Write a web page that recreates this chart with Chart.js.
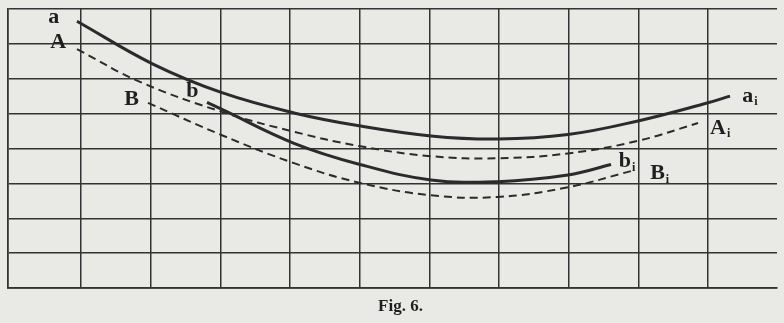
<!DOCTYPE html>
<html>
<head>
<meta charset="utf-8">
<script src="https://cdn.jsdelivr.net/npm/chart.js@4.4.1/dist/chart.umd.min.js"></script>
<style>
    html, body { margin: 0; padding: 0; background: #e9e9e6; }
    #wrap { width: 784px; height: 323px; }
</style>
</head>
<body>
<div id="wrap"><canvas id="fig"></canvas></div>
<script>
// curve values in grid units (x: columns, y: rows from the bottom)
const curveA_x = [0.943, 2.034, 3.024, 4.058, 4.991, 6.024, 6.98, 7.99, 8.995, 10.0, 10.316]
const curveA_y = [7.65, 6.42, 5.60, 5.02, 4.65, 4.36, 4.27, 4.40, 4.79, 5.31, 5.50]

const dashA_x = [0.943, 1.847, 3.024, 4.058, 4.991, 6.024, 6.98, 7.99, 8.995, 9.857]
const dashA_y = [6.85, 5.91, 5.05, 4.48, 4.07, 3.78, 3.72, 3.86, 4.22, 4.73]

const curveB_x = [2.809, 3.024, 4.058, 4.991, 6.024, 6.98, 7.99, 8.608]
const curveB_y = [5.32, 5.12, 4.15, 3.55, 3.10, 3.05, 3.24, 3.54]

const dashB_x = [1.962, 3.024, 4.058, 4.991, 6.024, 6.98, 7.99, 8.91]
const dashB_y = [5.31, 4.38, 3.58, 3.02, 2.66, 2.61, 2.89, 3.36]

// column lines 1..10, the outer frame is the axis border
const gridX = [1, 2, 3, 4, 5, 6, 7, 8, 9, 10]

const curveLabels = [
    { text: 'a', sub: '', x: 0.53, y: 7.75 },
    { text: 'A', sub: '', x: 0.56, y: 7.05 },
    { text: 'B', sub: '', x: 1.62, y: 5.4 },
    { text: 'b', sub: '', x: 2.51, y: 5.65 },
    { text: 'a', sub: 'i', x: 10.49, y: 5.5 },
    { text: 'A', sub: 'i', x: 10.03, y: 4.58 },
    { text: 'b', sub: 'i', x: 8.72, y: 3.62 },
    { text: 'B', sub: 'i', x: 9.17, y: 3.28 },
]
const caption = 'Fig. 6.'

const ink = '#333333'

function pts(xs, ys) {
    return xs.map((x, i) => ({ x: x, y: ys[i] }))
}

const lineBase = {
    showLine: true,
    fill: false,
    borderColor: '#2b2b2b',
    pointRadius: 0,
    tension: 0.4,
}

const labelPlugin = {
    id: 'curveLabels',
    afterDatasetsDraw(chart) {
        const ctx = chart.ctx
        const xs = chart.scales.x
        const ys = chart.scales.y
        ctx.save()
        ctx.fillStyle = '#1f1f1f'
        ctx.textBaseline = 'middle'
        curveLabels.forEach(l => {
            const px = xs.getPixelForValue(l.x)
            const py = ys.getPixelForValue(l.y)
            ctx.font = 'bold 22px "Liberation Serif", "DejaVu Serif", serif'
            ctx.textAlign = 'left'
            ctx.fillText(l.text, px, py)
            if (l.sub) {
                const w = ctx.measureText(l.text).width
                ctx.font = 'bold 12px "Liberation Serif", "DejaVu Serif", serif'
                ctx.fillText(l.sub, px + w + 1, py + 6)
            }
        })
        ctx.font = 'bold 17px "Liberation Serif", "DejaVu Serif", serif'
        ctx.textAlign = 'center'
        ctx.fillText(caption, (chart.chartArea.left + chart.chartArea.right) / 2 + 8, chart.chartArea.bottom + 19)
        ctx.restore()
    }
}

new Chart(document.getElementById('fig'), {
    type: 'scatter',
    data: {
        datasets: [
            { ...lineBase, data: pts(curveA_x, curveA_y), borderWidth: 3 },
            { ...lineBase, data: pts(dashA_x, dashA_y), borderWidth: 2, borderDash: [8, 5] },
            { ...lineBase, data: pts(curveB_x, curveB_y), borderWidth: 3 },
            { ...lineBase, data: pts(dashB_x, dashB_y), borderWidth: 2, borderDash: [8, 5] },
        ]
    },
    options: {
        responsive: true,
        maintainAspectRatio: false,
        animation: false,
        layout: {
            padding: { left: 8, right: 7, top: 9, bottom: 35 }
        },
        plugins: {
            legend: { display: false },
            tooltip: { enabled: false },
        },
        scales: {
            x: {
                type: 'linear',
                min: -0.047,
                max: 10.99,
                afterBuildTicks: (axis) => { axis.ticks = gridX.map(v => ({ value: v })) },
                grid: { color: ink, lineWidth: 1.5, drawTicks: false },
                border: { color: ink, width: 1.8 },
                ticks: { display: false },
            },
            y: {
                type: 'linear',
                min: 0,
                max: 8,
                grid: { color: ink, lineWidth: 1.5, drawTicks: false },
                border: { color: ink, width: 1.8 },
                ticks: { display: false, stepSize: 1 },
            }
        }
    },
    plugins: [labelPlugin]
})
</script>
</body>
</html>
